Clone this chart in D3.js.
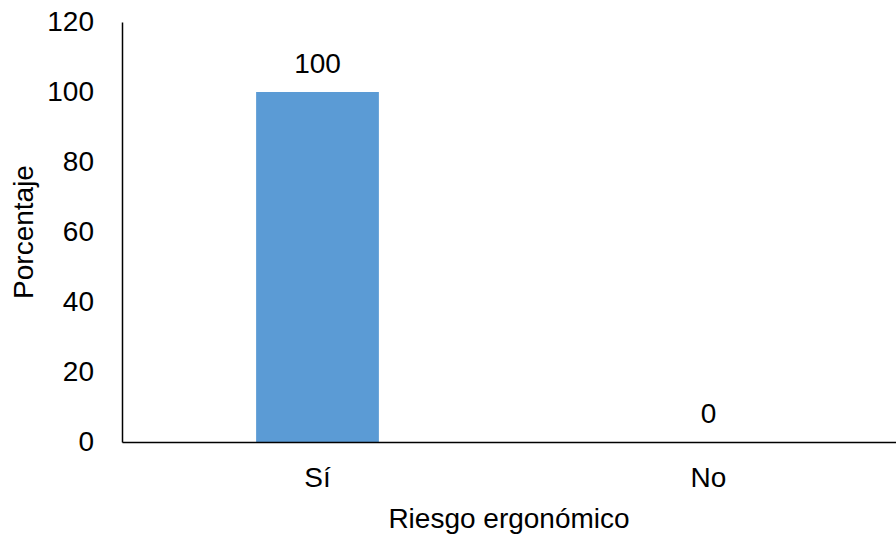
<!DOCTYPE html>
<html>
<head>
<meta charset="utf-8">
<script src="https://cdn.jsdelivr.net/npm/d3@7"></script>
<style>
  html, body { margin: 0; padding: 0; background: #fff; }
  svg text { font-family: "Liberation Sans", Arial, sans-serif; fill: #000; }
</style>
</head>
<body>
<svg id="chart" width="896" height="542"></svg>
<script>
// Chart data
const categories = ["Sí", "No"];
const values = [100, 0];
const yTicks = [0, 20, 40, 60, 80, 100, 120];
const xTitle = "Riesgo ergonómico";
const yTitle = "Porcentaje";

(function draw() {
  const svg = d3.select("#chart");
  const W = 896;
  const plotLeft = 122, plotTop = 22, plotBottom = 442, plotRight = 904;
  const fontSize = 28;
  const font = '"Liberation Sans", Arial, sans-serif';

  const x = d3.scaleBand()
    .domain(categories)
    .range([plotLeft, plotRight])
    .paddingInner(0.686)
    .paddingOuter(0.343);

  const y = d3.scaleLinear()
    .domain([0, 120])
    .range([plotBottom, plotTop]);

  // Bars
  svg.append("g")
    .selectAll("rect")
    .data(categories)
    .join("rect")
    .attr("x", d => x(d))
    .attr("width", x.bandwidth())
    .attr("y", (d, i) => y(values[i]))
    .attr("height", (d, i) => y(0) - y(values[i]))
    .attr("fill", "#5B9BD5");

  // Value labels
  svg.append("g")
    .selectAll("text")
    .data(categories)
    .join("text")
    .attr("x", d => x(d) + x.bandwidth() / 2)
    .attr("y", (d, i) => y(values[i]) - 19)
    .attr("text-anchor", "middle")
    .style("font-size", fontSize + "px")
    .text((d, i) => values[i]);

  // Y axis
  const yAxis = svg.append("g")
    .attr("transform", `translate(${plotLeft},0)`)
    .call(d3.axisLeft(y).tickValues(yTicks).tickSize(0).tickPadding(28));
  yAxis.select(".domain").attr("stroke", "#000").attr("stroke-width", 1.5);
  yAxis.selectAll("text")
    .style("font-size", fontSize + "px")
    .style("font-family", font)
    .attr("fill", "#000");

  // X axis
  const xAxis = svg.append("g")
    .attr("transform", `translate(0,${plotBottom})`)
    .call(d3.axisBottom(x).tickSize(0).tickPadding(25));
  xAxis.select(".domain").attr("stroke", "#000").attr("stroke-width", 1.5);
  xAxis.selectAll("text")
    .style("font-size", fontSize + "px")
    .style("font-family", font)
    .attr("fill", "#000");

  // Axis titles
  svg.append("text")
    .attr("x", (plotLeft + W) / 2)
    .attr("y", 528)
    .attr("text-anchor", "middle")
    .style("font-size", fontSize + "px")
    .text(xTitle);

  svg.append("text")
    .attr("transform", `translate(33,${(plotTop + plotBottom) / 2}) rotate(-90)`)
    .attr("text-anchor", "middle")
    .style("font-size", fontSize + "px")
    .text(yTitle);
})();
</script>
</body>
</html>
